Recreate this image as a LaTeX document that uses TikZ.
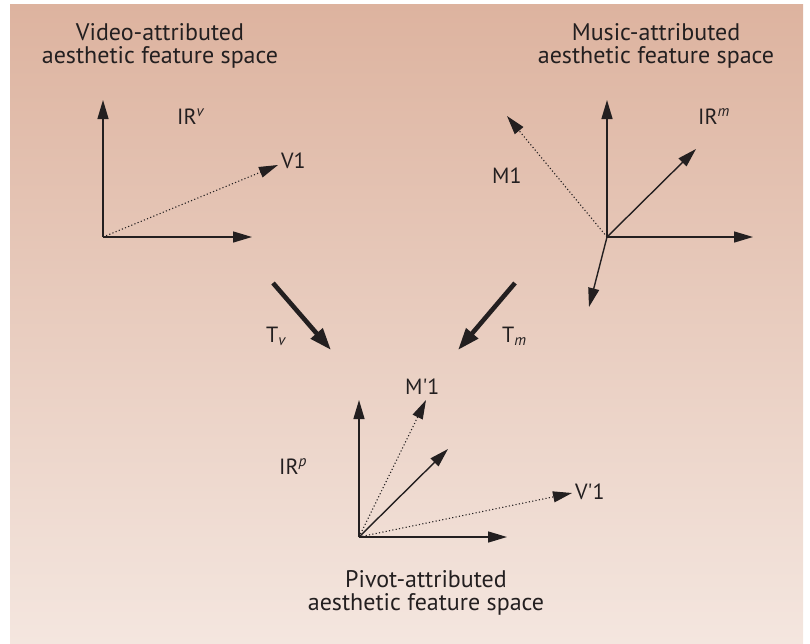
\documentclass[tikz,border=0pt]{standalone}
\usepackage{fontspec}
\setmainfont{PT Sans}
\usetikzlibrary{arrows.meta}
\definecolor{bgtop}{RGB}{221,179,159}
\definecolor{bgbot}{RGB}{244,230,223}
\definecolor{ink}{RGB}{35,31,32}
\tikzset{
  vec/.style={draw=ink, line width=1.4pt, -{Triangle[length=19pt,width=11pt]}},
  dotvec/.style={vec, line width=1.1pt, dash pattern=on 1.1pt off 2.3pt},
  trans/.style={draw=ink, line width=4.6pt, -{Triangle[length=22pt,width=15pt]}},
  lab/.style={anchor=base west, text=ink, inner sep=0pt, font=\fontsize{22}{24}\selectfont},
  title/.style={align=center, text=ink, inner sep=0pt, font=\fontsize{24}{23}\selectfont}
}

\begin{document}
\begin{tikzpicture}[x=1pt,y=-1pt]
  \useasboundingbox (0,0) rectangle (810,643);
  \shade[top color=bgtop, bottom color=bgbot] (10,4) rectangle (803,643);
  \coordinate (vO) at (103,237);
  \coordinate (vX) at (252,237);
  \coordinate (vY) at (103,100);
  \coordinate (vV) at (278,165);
  \coordinate (mO) at (607,237);
  \coordinate (mX) at (753,237);
  \coordinate (mY) at (607,100);
  \coordinate (mD) at (696,149);
  \coordinate (mS) at (589,307);
  \coordinate (mM) at (507,116);
  \coordinate (pO) at (359,537);
  \coordinate (pX) at (507,537);
  \coordinate (pY) at (359,400);
  \coordinate (pD) at (448,449);
  \coordinate (pM) at (426,400);
  \coordinate (pV) at (572,493);
  \coordinate (tvA) at (273,283);
  \coordinate (tvB) at (331,350);
  \coordinate (tmA) at (515,283);
  \coordinate (tmB) at (458,350);
  \node[title] (vtitle) at (160,46) {Video-attributed\\aesthetic feature space};
  \node[title] (mtitle) at (656,46) {Music-attributed\\aesthetic feature space};
  \node[title] (ptitle) at (426,593) {Pivot-attributed\\aesthetic feature space};
  \draw[vec] (vO) -- (vY);
  \draw[vec] (vO) -- (vX);
  \draw[dotvec] (vO) -- (vV);
  \draw[vec] (mO) -- (mY);
  \draw[vec] (mO) -- (mX);
  \draw[vec] (mO) -- (mD);
  \draw[vec] (mO) -- (mS);
  \draw[dotvec] (mO) -- (mM);
  \draw[vec] (pO) -- (pY);
  \draw[vec] (pO) -- (pX);
  \draw[vec] (pO) -- (pD);
  \draw[dotvec] (pO) -- (pM);
  \draw[dotvec] (pO) -- (pV);
  \draw[trans] (tvA) -- (tvB);
  \draw[trans] (tmA) -- (tmB);
  \node[lab] (irv) at (177,124) {IR\textsuperscript{\itshape v}};
  \node[lab] (vone) at (281,168) {V1};
  \node[lab] (irm) at (698,124) {IR\textsuperscript{\itshape m}};
  \node[lab] (mone) at (492,183) {M1};
  \node[lab] (tv) at (266,342) {T\textsubscript{\itshape v}};
  \node[lab] (tm) at (502,342) {T\textsubscript{\itshape m}};
  \node[lab] (mpone) at (405,394) {M\textquotesingle 1};
  \node[lab] (irp) at (279,474) {IR\textsuperscript{\itshape p}};
  \node[lab] (vpone) at (575,499) {V\textquotesingle 1};
\end{tikzpicture}
\end{document}
